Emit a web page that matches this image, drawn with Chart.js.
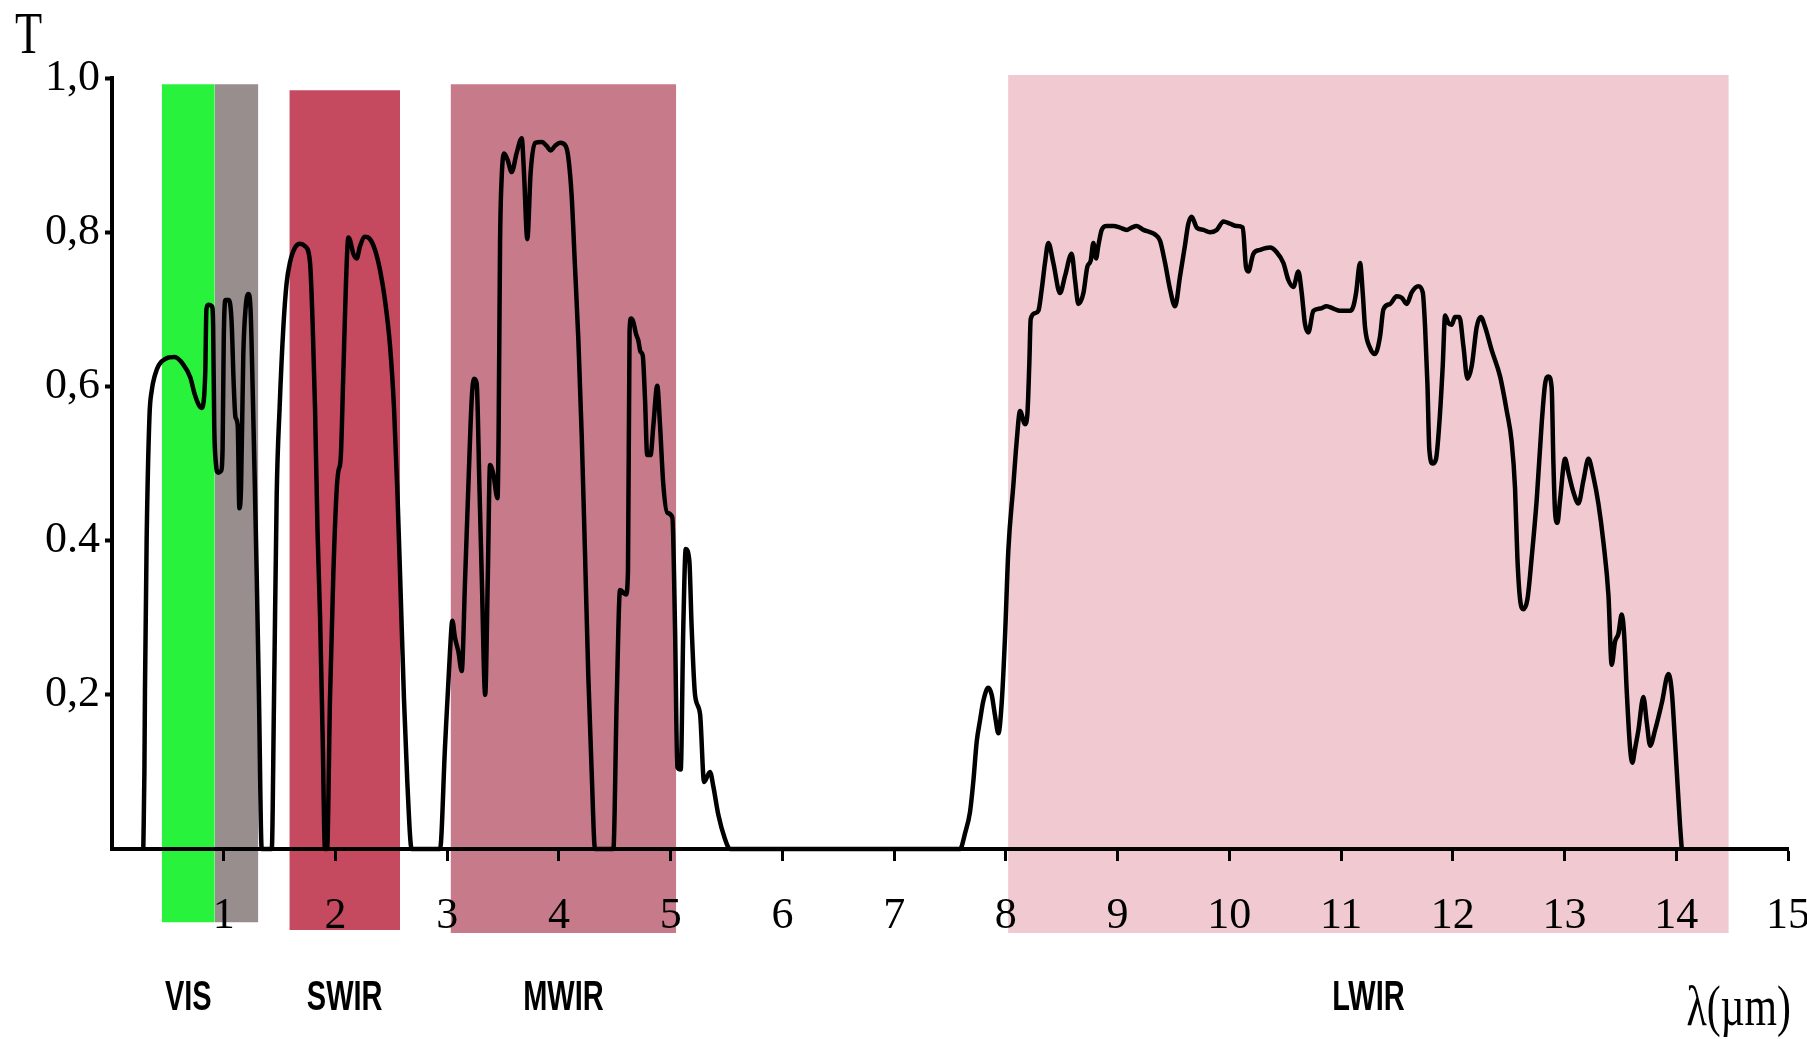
<!DOCTYPE html>
<html>
<head>
<meta charset="utf-8">
<script src="https://cdn.jsdelivr.net/npm/chart.js@4.4.1/dist/chart.umd.min.js"></script>
<style>
  html, body { margin: 0; padding: 0; background: #fff; }
  #wrap { width: 1807px; height: 1039px; }
</style>
</head>
<body>
<div id="wrap"><canvas id="windowChart"></canvas></div>
<script>
// atmospheric transmission T vs wavelength (um), [lambda, T]
var visNir = [[0.28,0],[0.29,0.10],[0.295,0.205],[0.31,0.40],[0.335,0.56],[0.355,0.594],[0.385,0.615],[0.42,0.628],
  [0.48,0.636],[0.56,0.638],[0.64,0.628],[0.70,0.612],[0.74,0.59],[0.78,0.575],[0.80,0.572],[0.82,0.58],[0.835,0.62],
  [0.845,0.70],[0.86,0.706],[0.895,0.704],[0.905,0.68],[0.915,0.55],[0.93,0.50],[0.95,0.488],[0.975,0.49],[0.99,0.52],
  [1.0,0.66],[1.015,0.712],[1.045,0.712],[1.07,0.685],[1.09,0.60],[1.105,0.56],[1.125,0.55],[1.14,0.442],[1.155,0.47],
  [1.175,0.64],[1.195,0.70],[1.22,0.72],[1.24,0.70],[1.26,0.59],[1.28,0.46],[1.295,0.357],[1.315,0.2],[1.34,0]];

var swir = [[1.43,0],[1.45,0.195],[1.474,0.459],[1.50,0.572],[1.535,0.68],[1.563,0.734],[1.593,0.761],[1.638,0.78],
  [1.683,0.785],[1.727,0.782],[1.772,0.761],[1.796,0.68],[1.817,0.572],[1.84,0.41],[1.862,0.302],[1.886,0.14],[1.906,0],
  [1.925,0],[1.951,0.195],[1.981,0.357],[2.01,0.464],[2.026,0.49],[2.047,0.507],[2.07,0.615],[2.094,0.734],[2.115,0.793],
  [2.13,0.79],[2.16,0.772],[2.19,0.766],[2.22,0.782],[2.264,0.794],[2.303,0.792],[2.354,0.777],[2.40,0.75],[2.443,0.712],
  [2.488,0.653],[2.524,0.572],[2.554,0.464],[2.584,0.329],[2.613,0.195],[2.643,0.087],[2.682,0]];

var mwir = [[2.936,0],[2.98,0.131],[3.025,0.256],[3.046,0.296],[3.07,0.274],[3.10,0.256],[3.13,0.231],[3.16,0.349],
  [3.19,0.473],[3.22,0.585],[3.24,0.61],[3.264,0.604],[3.288,0.473],[3.31,0.349],[3.34,0.2],[3.363,0.349],[3.383,0.498],
  [3.413,0.486],[3.45,0.455],[3.46,0.536],[3.473,0.785],[3.488,0.872],[3.51,0.902],[3.54,0.894],[3.577,0.878],[3.622,0.903],
  [3.667,0.922],[3.687,0.878],[3.717,0.791],[3.747,0.878],[3.786,0.916],[3.846,0.917],[3.89,0.912],[3.926,0.906],
  [3.965,0.912],[4.01,0.916],[4.06,0.912],[4.084,0.897],[4.114,0.847],[4.144,0.754],[4.174,0.66],[4.204,0.536],
  [4.234,0.38],[4.263,0.224],[4.293,0.1],[4.323,0],
  [4.487,0],[4.517,0.193],[4.547,0.336],[4.60,0.33],[4.618,0.36],[4.632,0.67],[4.645,0.688],[4.665,0.684],[4.69,0.668],
  [4.71,0.66],[4.73,0.645],[4.75,0.64],[4.77,0.585],[4.79,0.511],[4.82,0.511],[4.845,0.549],[4.88,0.601],[4.905,0.549],
  [4.934,0.473],[4.97,0.436],[5.015,0.43],[5.039,0.287],[5.06,0.106],[5.09,0.103],[5.113,0.287],[5.135,0.389],
  [5.167,0.374],[5.188,0.287],[5.218,0.2],[5.263,0.175],[5.299,0.087],[5.352,0.1],[5.382,0.081],[5.427,0.044],
  [5.486,0.013],[5.531,0]];

var lwir = [[7.59,0],[7.634,0.02],[7.679,0.048],[7.709,0.088],[7.739,0.139],[7.769,0.167],[7.798,0.192],[7.843,0.209],
  [7.873,0.2],[7.903,0.173],[7.933,0.15],[7.963,0.19],[7.992,0.274],[8.022,0.387],[8.067,0.472],[8.097,0.529],
  [8.127,0.568],[8.171,0.551],[8.192,0.563],[8.21,0.63],[8.222,0.687],[8.261,0.695],[8.291,0.698],[8.321,0.726],
  [8.35,0.76],[8.38,0.786],[8.425,0.76],[8.485,0.721],[8.529,0.743],[8.589,0.772],[8.619,0.738],[8.649,0.707],
  [8.694,0.721],[8.729,0.755],[8.759,0.763],[8.783,0.786],[8.807,0.766],[8.828,0.783],[8.858,0.803],[8.902,0.808],
  [8.962,0.808],[9.022,0.806],[9.081,0.803],[9.126,0.806],[9.171,0.808],[9.231,0.803],[9.29,0.8],[9.335,0.797],
  [9.38,0.789],[9.425,0.76],[9.469,0.726],[9.514,0.704],[9.559,0.743],[9.603,0.783],[9.633,0.811],[9.663,0.82],
  [9.708,0.806],[9.768,0.803],[9.827,0.8],[9.887,0.803],[9.947,0.814],[10.006,0.811],[10.066,0.808],[10.12,0.806],
  [10.149,0.755],[10.17,0.749],[10.215,0.772],[10.275,0.777],[10.364,0.78],[10.424,0.774],[10.484,0.76],[10.528,0.738],
  [10.573,0.729],[10.618,0.749],[10.648,0.721],[10.677,0.681],[10.707,0.67],[10.752,0.698],[10.812,0.701],[10.871,0.704],
  [10.931,0.701],[10.991,0.698],[11.08,0.698],[11.11,0.704],[11.134,0.721],[11.17,0.76],[11.194,0.721],[11.215,0.676],
  [11.259,0.65],[11.304,0.642],[11.349,0.665],[11.379,0.70],[11.439,0.707],[11.498,0.717],[11.543,0.715],[11.588,0.707],
  [11.632,0.722],[11.692,0.73],[11.731,0.722],[11.752,0.677],[11.773,0.603],[11.79,0.518],[11.82,0.5],[11.85,0.506],
  [11.88,0.553],[11.91,0.627],[11.931,0.692],[11.961,0.682],[11.99,0.68],[12.02,0.69],[12.059,0.69],[12.095,0.652],
  [12.131,0.61],[12.17,0.627],[12.214,0.677],[12.25,0.69],[12.289,0.677],[12.348,0.647],[12.423,0.613],[12.483,0.568],
  [12.527,0.528],[12.557,0.468],[12.578,0.378],[12.602,0.324],[12.632,0.311],[12.668,0.324],[12.706,0.378],[12.751,0.453],
  [12.796,0.553],[12.826,0.603],[12.856,0.613],[12.885,0.598],[12.9,0.503],[12.915,0.438],[12.936,0.423],[12.96,0.453],
  [13.005,0.506],[13.035,0.488],[13.079,0.463],[13.124,0.448],[13.169,0.478],[13.214,0.506],[13.258,0.483],[13.303,0.448],
  [13.348,0.398],[13.393,0.329],[13.422,0.239],[13.452,0.269],[13.482,0.279],[13.512,0.304],[13.533,0.279],[13.557,0.204],
  [13.587,0.13],[13.607,0.112],[13.631,0.13],[13.661,0.154],[13.706,0.197],[13.736,0.164],[13.766,0.134],[13.81,0.154],
  [13.87,0.189],[13.93,0.227],[13.96,0.204],[13.989,0.139],[14.013,0.08],[14.034,0.03],[14.049,0]];

// spectral bands (um)
var bandNames = ["VIS", "", "SWIR", "MWIR", "LWIR"];
var bandStart = [0.445, 0.92, 1.587, 3.03, 8.02];
var bandEnd = [0.92, 1.31, 2.578, 5.05, 14.47];

var xTicks = [1, 2, 3, 4, 5, 6, 7, 8, 9, 10, 11, 12, 13, 14, 15];
var xTickLabels = ["1", "2", "3", "4", "5", "6", "7", "8", "9", "10", "11", "12", "13", "14", "15"];
var yTicks = [0.2, 0.4, 0.6, 0.8, 1.0];
var yTickLabels = ["0,2", "0.4", "0,6", "0,8", "1,0"];

// look of the band boxes
var bandColors = ["#29f23d", "#988e8e", "#c64a5f", "#c77b8a", "#f0c9d1"];
var bandTop = [0.992, 0.992, 0.984, 0.992, 1.004];
var bandBottom = [-0.095, -0.095, -0.105, -0.109, -0.109];

var curve = visNir.concat(swir, mwir, lwir).map(function (p) { return { x: p[0], y: p[1] }; });

var datasets = [{
  data: curve,
  borderColor: "#000",
  borderWidth: 4.5,
  borderJoinStyle: "round",
  pointRadius: 0,
  fill: false,
  cubicInterpolationMode: "monotone",
  order: 0
}];
bandStart.forEach(function (s, i) {
  datasets.push({
    data: [{ x: s, y: bandTop[i] }, { x: bandEnd[i], y: bandTop[i] }],
    borderColor: "rgba(0,0,0,0)",
    borderWidth: 0,
    backgroundColor: bandColors[i],
    fill: { value: bandBottom[i] },
    pointRadius: 0,
    order: 1
  });
});

function squeezed(ctx, text, x, y, sx) {
  ctx.save();
  ctx.translate(x, y);
  ctx.scale(sx, 1);
  ctx.fillText(text, 0, 0);
  ctx.restore();
}

var extras = {
  id: "extras",
  afterDraw: function (chart) {
    var ctx = chart.ctx, xs = chart.scales.x, ys = chart.scales.y;
    var x0 = xs.getPixelForValue(0);
    var y0 = ys.getPixelForValue(0);
    ctx.save();
    // y axis only spans 0..1
    ctx.strokeStyle = "#000";
    ctx.lineWidth = 4;
    ctx.beginPath();
    ctx.moveTo(x0, y0);
    ctx.lineTo(x0, ys.getPixelForValue(1) - 2);
    ctx.stroke();

    ctx.fillStyle = "#000";
    ctx.textAlign = "center";
    ctx.textBaseline = "middle";
    ctx.font = 'bold 42px "Liberation Sans", Arial, sans-serif';
    bandNames.forEach(function (name, i) {
      if (!name) return;
      squeezed(ctx, name, xs.getPixelForValue((bandStart[i] + bandEnd[i]) / 2), y0 + 149, 0.69);
    });

    ctx.textBaseline = "alphabetic";
    ctx.textAlign = "left";
    ctx.font = '60px "Liberation Serif", "Times New Roman", serif';
    squeezed(ctx, "T", 15, 53, 0.74);
    ctx.textAlign = "right";
    ctx.font = '58px "Liberation Serif", "Times New Roman", serif';
    squeezed(ctx, "\u03bb(\u00b5m)", 1791, 1025, 0.72);
    ctx.restore();
  }
};

var serif = '"Liberation Serif", "Times New Roman", serif';

new Chart(document.getElementById("windowChart"), {
  type: "line",
  data: { datasets: datasets },
  options: {
    responsive: true,
    maintainAspectRatio: false,
    animation: false,
    layout: { padding: { left: 0, top: 70.3, right: 19, bottom: 97.5 } },
    plugins: { legend: { display: false }, tooltip: { enabled: false } },
    scales: {
      x: {
        type: "linear",
        min: 0,
        max: 15,
        position: { y: 0 },
        border: { display: true, color: "#000", width: 4, z: 1 },
        grid: { drawOnChartArea: false, drawTicks: true, tickLength: 10, tickWidth: 3, tickColor: "#000", z: 1 },
        ticks: {
          z: 1, padding: 31, color: "#000", autoSkip: false, maxRotation: 0,
          font: { family: serif, size: 44 },
          callback: function (v, i) { return xTickLabels[i]; }
        },
        afterBuildTicks: function (s) { s.ticks = xTicks.map(function (v) { return { value: v }; }); },
        afterFit: function (s) { s.paddingLeft = 0; s.paddingRight = 0; }
      },
      y: {
        type: "linear",
        min: -0.12,
        max: 1.01,
        position: "left",
        border: { display: false },
        grid: { drawOnChartArea: false, drawTicks: true, tickLength: 7, tickWidth: 4, tickColor: "#000" },
        ticks: {
          padding: 5, color: "#000",
          font: { family: serif, size: 44 },
          callback: function (v, i) { return yTickLabels[i]; }
        },
        afterBuildTicks: function (s) { s.ticks = yTicks.map(function (v) { return { value: v }; }); },
        afterFit: function (s) { s.width = 112; }
      }
    }
  },
  plugins: [extras]
});
</script>
</body>
</html>
